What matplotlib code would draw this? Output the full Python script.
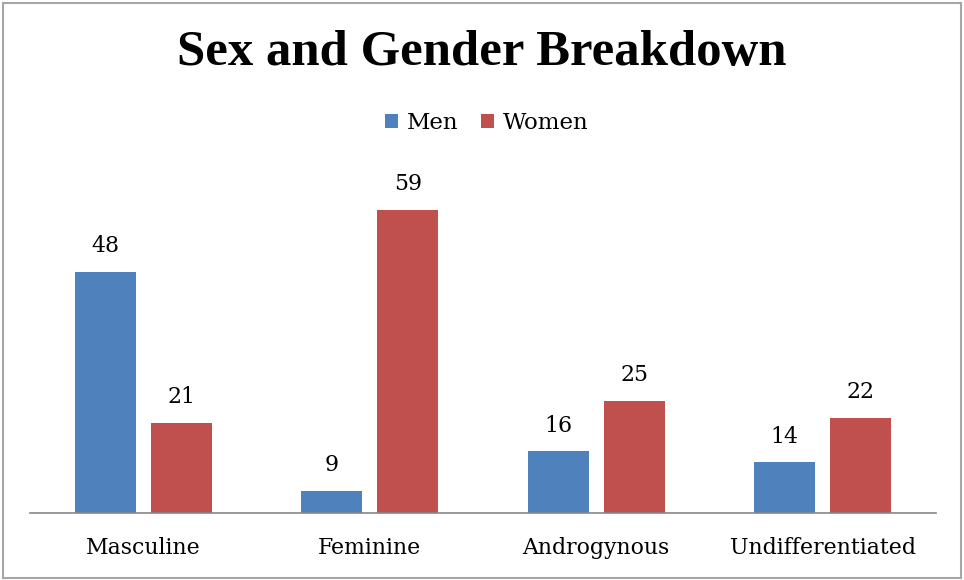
import matplotlib
matplotlib.use("Agg")
import matplotlib.pyplot as plt
import numpy as np
from matplotlib.patches import Rectangle

categories = ["Masculine", "Feminine", "Androgynous", "Undifferentiated"]
men = [48, 9, 16, 14]
women = [21, 59, 25, 22]
series_names = ["Men", "Women"]

blue = "#4F81BD"
red = "#C0504D"
serif = ["DejaVu Serif"]
title_font = ["Liberation Serif", "DejaVu Serif"]

fig = plt.figure(figsize=(9.64, 5.8), dpi=100)
fig.patch.set_facecolor("white")
# chart border
fig.add_artist(Rectangle((0.003, 0.003), 0.994, 0.992, transform=fig.transFigure,
                         fill=False, edgecolor="#a6a6a6", linewidth=1.5))

ax = fig.add_axes([30 / 964, 1 - 513 / 580, 906 / 964, 365 / 580])
x = np.arange(len(categories))
w = 0.27
gap = 0.066
b1 = ax.bar(x - (w + gap) / 2, men, w, color=blue, label=series_names[0])
b2 = ax.bar(x + (w + gap) / 2, women, w, color=red, label=series_names[1])

ax.set_ylim(5, 70)
ax.set_xlim(-0.5, len(categories) - 0.5)
for s in ["top", "right", "left"]:
    ax.spines[s].set_visible(False)
ax.spines["bottom"].set_color("#868686")
ax.spines["bottom"].set_linewidth(1.2)
ax.set_yticks([])
ax.set_xticks(x)
ax.set_xticklabels(categories, family=serif, fontsize=15.8)
ax.tick_params(axis="x", length=0, pad=17)

for bars in (b1, b2):
    for r in bars:
        ax.annotate(str(int(r.get_height())), (r.get_x() + r.get_width() / 2, r.get_height()),
                    xytext=(0, 18.5), textcoords="offset points", ha="center", va="center",
                    family=serif, fontsize=15.8)

fig.text(0.5, 1 - 53 / 580, "Sex and Gender Breakdown", ha="center", va="center",
         family=title_font, fontsize=36.5, fontweight="bold")

leg = fig.legend(loc="center", bbox_to_anchor=(0.505, 1 - 123 / 580), ncol=2, frameon=False,
                 prop={"family": serif, "size": 16.5}, handlelength=0.55, handleheight=0.55,
                 handletextpad=0.4, columnspacing=1.0)

fig.savefig("out.png", dpi=100, facecolor="white")
